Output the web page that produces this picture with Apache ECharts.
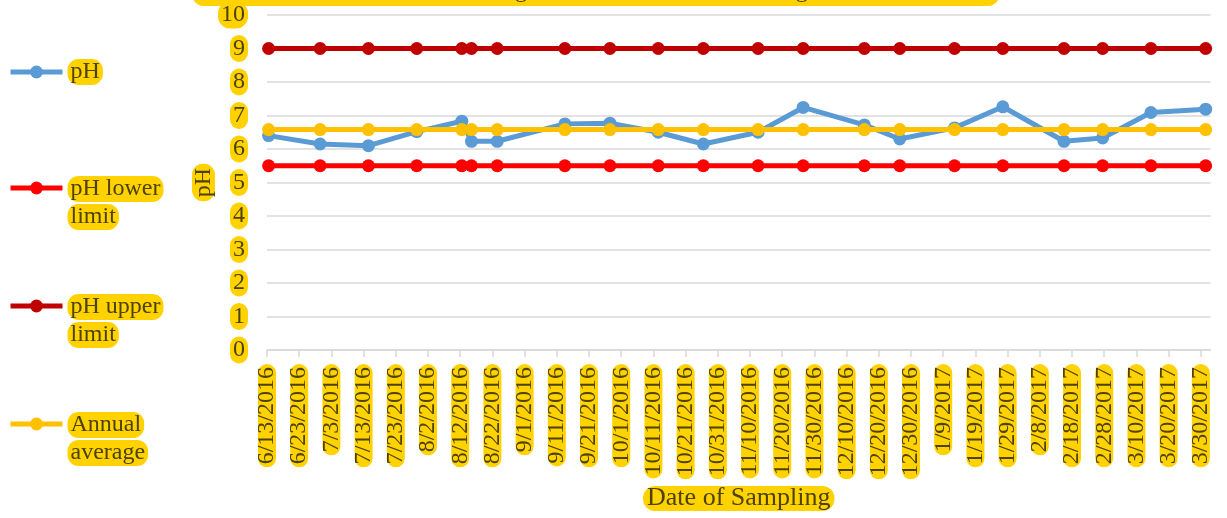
<!DOCTYPE html>
<html>
<head>
<meta charset="utf-8">
<script src="https://cdn.jsdelivr.net/npm/echarts@6/dist/echarts.min.js"></script>
<style>
  html, body { margin: 0; padding: 0; background: #ffffff; }
  #chart { width: 1227px; height: 518px; }
</style>
</head>
<body>
<div id="chart"></div>
<script>
// ---- Data ----
const titleText = 'The Trend of Water Acid Readings at the Site Over Monitoring Period and Limits.';
const startDate = '6/13/2016';
const tickLabels = ['6/13/2016','6/23/2016','7/3/2016','7/13/2016','7/23/2016','8/2/2016','8/12/2016','8/22/2016','9/1/2016','9/11/2016','9/21/2016','10/1/2016','10/11/2016','10/21/2016','10/31/2016','11/10/2016','11/20/2016','11/30/2016','12/10/2016','12/20/2016','12/30/2016','1/9/2017','1/19/2017','1/29/2017','2/8/2017','2/18/2017','2/28/2017','3/10/2017','3/20/2017','3/30/2017'];
const axisEndDate = '4/1/2017';
const sampleDates = ['6/13/2016','6/29/2016','7/14/2016','7/29/2016','8/12/2016','8/15/2016','8/23/2016','9/13/2016','9/27/2016','10/12/2016','10/26/2016','11/12/2016','11/26/2016','12/15/2016','12/26/2016','1/12/2017','1/27/2017','2/15/2017','2/27/2017','3/14/2017','3/31/2017'];
const phValues = [6.4, 6.15, 6.1, 6.52, 6.83, 6.23, 6.23, 6.75, 6.77, 6.5, 6.15, 6.5, 7.24, 6.72, 6.3, 6.63, 7.26, 6.23, 6.33, 7.09, 7.19];
const lowerLimit = [5.5,5.5,5.5,5.5,5.5,5.5,5.5,5.5,5.5,5.5,5.5,5.5,5.5,5.5,5.5,5.5,5.5,5.5,5.5,5.5,5.5];
const upperLimit = [9,9,9,9,9,9,9,9,9,9,9,9,9,9,9,9,9,9,9,9,9];
const annualAverage = [6.58,6.58,6.58,6.58,6.58,6.58,6.58,6.58,6.58,6.58,6.58,6.58,6.58,6.58,6.58,6.58,6.58,6.58,6.58,6.58,6.58];
const seriesNames = ['pH', 'pH lower limit', 'pH upper limit', 'Annual average'];
const legendLines = { 'pH': ['pH'], 'pH lower limit': ['pH lower', 'limit'], 'pH upper limit': ['pH upper', 'limit'], 'Annual average': ['Annual', 'average'] };
const yTicks = [0,1,2,3,4,5,6,7,8,9,10];

// ---- Helpers ----
function dayNum(s) {
  const p = s.split('/').map(Number);
  return Date.UTC(p[2], p[0] - 1, p[1]) / 86400000;
}
const d0 = dayNum(startDate);
const dayOf = s => dayNum(s) - d0;
const tickValues = tickLabels.map(dayOf);
const labelMap = {};
tickLabels.forEach(t => { labelMap[dayOf(t)] = t; });
const xMax = dayOf(axisEndDate) + 1;

const FONT = 'Liberation Serif';
const GOLD = '#FFD200';
const TXT = '#4d4200';
const colors = ['#5B9BD5', '#FF0000', '#C00000', '#FFC000'];

function pts(vals) { return sampleDates.map((d, i) => [dayOf(d) + 0.5, vals[i]]); }
const allVals = [phValues, lowerLimit, upperLimit, annualAverage];

const legendTops = [45, 162, 280, 398];
const legends = seriesNames.map((n, i) => ({
  data: [n],
  orient: 'vertical',
  left: 8,
  top: legendTops[i],
  padding: 0,
  itemWidth: 52,
  itemHeight: 16,
  selectedMode: false,
  lineStyle: { width: 5 },
  formatter: function (name) {
    const l = legendLines[name];
    return '{e| }\n{a|' + l[0] + '}\n' + (l[1] ? '{s| }\n{a|' + l[1] + '}' : '{e| }');
  },
  textStyle: {
    fontFamily: FONT, fontSize: 24, color: TXT,
    rich: {
      a: { fontFamily: FONT, fontSize: 24, color: TXT, backgroundColor: GOLD, borderRadius: 11, padding: [1, 3], lineHeight: 22 },
      e: { fontSize: 2, lineHeight: 30 },
      s: { fontSize: 2, lineHeight: 6 }
    }
  }
}));

const chart = echarts.init(document.getElementById('chart'), null, { renderer: 'canvas' });
chart.setOption({
  animation: false,
  backgroundColor: '#ffffff',
  title: {
    text: titleText,
    left: 192,
    top: -24,
    padding: [2, 8],
    backgroundColor: GOLD,
    borderRadius: 12,
    textStyle: { fontFamily: FONT, fontSize: 24, fontWeight: 'normal', color: TXT, lineHeight: 26 }
  },
  legend: legends,
  grid: { left: 267, right: 16.5, top: 15, bottom: 168, containLabel: false },
  xAxis: {
    type: 'value',
    min: 0,
    max: xMax,
    name: 'Date of Sampling',
    nameLocation: 'middle',
    nameGap: 136,
    nameMoveOverlap: false,
    nameTextStyle: { fontFamily: FONT, fontSize: 26, color: TXT, backgroundColor: GOLD, borderRadius: 12, padding: [0, 4], lineHeight: 25 },
    axisLine: { show: true, lineStyle: { color: '#d9d9d9', width: 1.5 } },
    axisTick: { show: true, length: 7, customValues: tickValues, lineStyle: { color: '#d9d9d9', width: 1.5 } },
    splitLine: { show: false },
    axisLabel: {
      customValues: tickValues,
      rotate: 90,
      margin: 14,
      fontFamily: FONT, fontSize: 24, color: TXT,
      backgroundColor: GOLD, borderRadius: 9, padding: [0, 3], lineHeight: 18,
      formatter: v => labelMap[v] || ''
    }
  },
  yAxis: {
    type: 'value',
    min: 0,
    max: 10,
    interval: 1,
    name: 'pH',
    nameLocation: 'middle',
    nameRotate: 90,
    nameGap: 52,
    nameMoveOverlap: false,
    nameTextStyle: { fontFamily: FONT, fontSize: 24, color: TXT, backgroundColor: GOLD, borderRadius: 11, padding: [0, 4], lineHeight: 23 },
    axisLine: { show: false },
    axisTick: { show: false },
    splitLine: { show: true, lineStyle: { color: '#d9d9d9', width: 1.5 } },
    axisLabel: {
      margin: 19,
      fontFamily: FONT, fontSize: 24, color: TXT,
      backgroundColor: GOLD, borderRadius: 12, padding: [1, 3], lineHeight: 25,
      formatter: v => (yTicks.indexOf(v) >= 0 ? String(v) : '')
    }
  },
  series: seriesNames.map((n, i) => ({
    name: n,
    type: 'line',
    data: pts(allVals[i]),
    symbol: 'circle',
    symbolSize: 13,
    showSymbol: true,
    showAllSymbol: true,
    lineStyle: { color: colors[i], width: 5 },
    itemStyle: { color: colors[i], borderWidth: 0 },
    emphasis: { disabled: true },
    z: 2 + i
  }))
});
</script>
</body>
</html>
